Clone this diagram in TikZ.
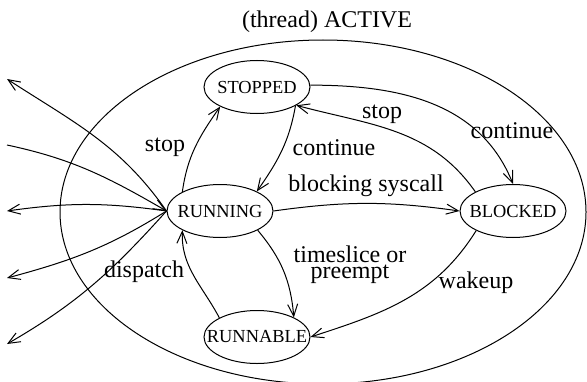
\documentclass[tikz,border=0pt]{standalone}
\usepackage{fontspec}
\setmainfont{Liberation Serif}
\usetikzlibrary{arrows.meta,shapes.geometric}
\begin{document}
\begin{tikzpicture}[x=0.5pt,y=0.5pt,line width=0.5pt,
  state/.style={draw,ellipse,minimum width=53pt,minimum height=26.5pt,inner sep=0pt,font=\fontsize{9.2}{10}\selectfont,
    execute at begin node={\hbox to 0pt\bgroup\hss},
    execute at end node={\hss\egroup}},
  lbl/.style={font=\fontsize{12}{13}\selectfont,inner sep=0pt,align=center},
  tr/.style={-{Straight Barb[length=6pt,width=5pt]}}]
\useasboundingbox (0,0) rectangle (587,381);
\clip (0,0) rectangle (587,381);
\draw (323,169) ellipse [x radius=131.5pt, y radius=86pt];
\node[lbl] (title) at (327,359) {(thread) ACTIVE};
\node[state] (stopped) at (257,294) {STOPPED};
\node[state] (running) at (220,170) {RUNNING};
\node[state] (blocked) at (513,170) {BLOCKED};
\node[state] (runnable) at (257,44) {RUNNABLE};
\coordinate (l1) at (7,302);
\coordinate (l2) at (7,236);
\coordinate (l3) at (7,170);
\coordinate (l4) at (7,103);
\coordinate (l5) at (7,37);
\draw[tr] (running.153) to[out=82,in=235] (stopped.208);
\draw[tr] (stopped.334) to[out=-100,in=55] (running.28);
\draw[tr] (stopped.2) to[out=0,in=112] (blocked.90);
\draw[tr] (blocked.153) to[out=125,in=345] (stopped.335);
\draw[tr] (running.0) to[out=8,in=172] (blocked.180);
\draw[tr] (running.333) to[out=-50,in=95] (runnable.28);
\draw[tr] (runnable.153) to[out=118,in=-92] (running.207);
\draw[tr] (blocked.208) to[out=238,in=18] (runnable.0);
\draw[tr] (running.180) to[out=125,in=-33] (l1);
\draw[tr] (l2) to[out=-12,in=150] (running.180);
\draw[tr] (running.180) to[out=172,in=8] (l3);
\draw[tr] (running.180) to[out=212,in=15] (l4);
\draw[tr] (running.180) to[out=228,in=30] (l5);
\node[lbl] (lstop1) at (165,234) {stop};
\node[lbl] (lcont1) at (334,233) {continue};
\node[lbl] (lstop2) at (382,267) {stop};
\node[lbl] (lcont2) at (512,250) {continue};
\node[lbl] (lblock) at (366,195) {blocking syscall};
\node[lbl,align=center] (ltime) at (350,116) {timeslice or\\[-5pt]preempt};
\node[lbl] (lwake) at (476,98) {wakeup};
\node[lbl] (ldisp) at (144,109) {dispatch};
\end{tikzpicture}
\end{document}
